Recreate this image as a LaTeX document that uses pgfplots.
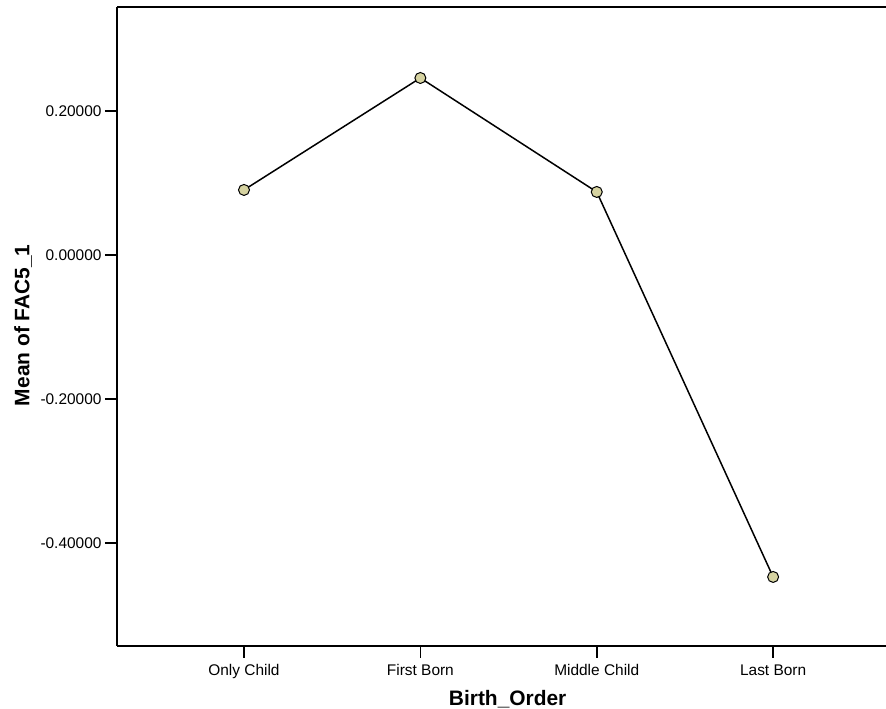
\documentclass[border=0pt]{standalone}
\usepackage{pgfplots}
\pgfplotsset{compat=1.18}
\usepackage{fontspec}
\setmainfont{Liberation Sans}
\definecolor{markfill}{RGB}{214,211,161}

\begin{document}
\begin{tikzpicture}[x=1bp,y=1bp]
\useasboundingbox (0,0) rectangle (886,709);
\begin{axis}[
  at={(117bp,63bp)}, anchor=south west,
  scale only axis, width=769bp, height=639bp,
  xmin=-0.72, xmax=3.64, ymin=-0.5431, ymax=0.3444,
  axis lines*=left,
  axis line style={line width=2bp},
  tick align=outside,
  major tick length=12bp,
  tick style={black, line width=1.6bp},
  xtick={0,1,2,3},
  xticklabels={Only Child, First Born, Middle Child, Last Born},
  ytick={-0.4,-0.2,0,0.2},
  yticklabels={-0.40000,-0.20000,0.00000,0.20000},
  ticklabel style={font=\fontsize{15.5}{18}\selectfont},
  xticklabel style={yshift=-3bp},
  xlabel={Birth\_Order},
  ylabel={Mean of FAC5\_1},
  label style={font=\bfseries\fontsize{21}{25}\selectfont},
  xlabel style={at={(rel axis cs:0.508,0)}, yshift=-53bp, anchor=center},
  ylabel style={at={(rel axis cs:0,0.502)}, yshift=94bp, anchor=center},
]
\addplot[black, line width=1.5bp, mark=*, mark size=5.5bp,
  mark options={fill=markfill, draw=black, line width=1bp}]
  coordinates {(0,0.0903) (1,0.2458) (2,0.0875) (3,-0.4472)};
\draw[line width=2bp] (rel axis cs:0,1) -- (rel axis cs:1,1);
\end{axis}
\end{tikzpicture}
\end{document}
